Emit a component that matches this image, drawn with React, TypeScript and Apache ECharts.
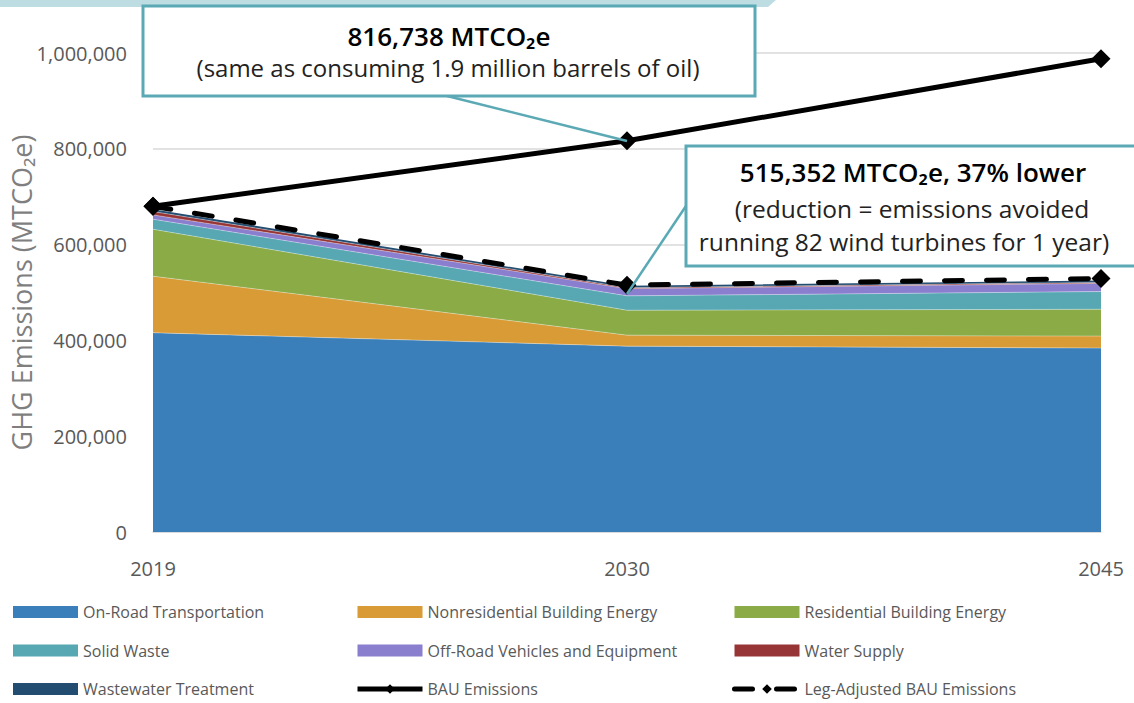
import React, { useEffect, useRef } from "react";
import * as echarts from "echarts";

const years = ["2019", "2030", "2045"];
const onRoad = [416000, 388000, 384000];
const nonresidential = [118000, 23000, 25000];
const residential = [98000, 52000, 56000];
const solidWaste = [21000, 30000, 37000];
const offRoad = [9000, 15000, 17000];
const waterSupply = [7000, 2000, 2000];
const wastewater = [5000, 4000, 4000];
const bau = [680000, 816738, 988000];
const legAdjusted = [680000, 515352, 529000];

const areaNames = [
  "On-Road Transportation",
  "Nonresidential Building Energy",
  "Residential Building Energy",
  "Solid Waste",
  "Off-Road Vehicles and Equipment",
  "Water Supply",
  "Wastewater Treatment",
];
const areaValues = [onRoad, nonresidential, residential, solidWaste, offRoad, waterSupply, wastewater];
const areaColors = ["#3a7fba", "#d99b36", "#8aab45", "#57a8b3", "#8a7ecf", "#973536", "#234d70"];

const FONT = "'Open Sans', 'Noto Sans', sans-serif";
const TEAL = "#5aa9b5";

export default function App() {
  const ref = useRef<HTMLDivElement>(null);
  useEffect(() => {
    if (!ref.current) return;
    const chart = echarts.init(ref.current, undefined, { renderer: "svg" });
    const areaSeries = areaNames.map((name, i) => ({
      name,
      type: "line",
      stack: "total",
      data: areaValues[i],
      symbol: "none",
      color: areaColors[i],
      lineStyle: { width: i === areaNames.length - 1 ? 0 : 1, color: "rgba(255,255,255,0.35)" },
      areaStyle: { color: areaColors[i], opacity: 1 },
      z: 2,
    }));
    const legendItem = (name: string) => {
      const i = areaNames.indexOf(name);
      if (i >= 0) return { name, icon: "rect", itemStyle: { color: areaColors[i], borderWidth: 0 } };
      return { name, lineStyle: { width: 5 } };
    };
    const legendCommon = {
      orient: "vertical",
      top: 597,
      height: 130,
      itemWidth: 65,
      itemHeight: 12,
      itemGap: 18.5,
      textStyle: { fontFamily: FONT, fontSize: 16, color: "#595959", lineHeight: 20 },
    };
    const textStyle = (text: string, size: number, bold: boolean) => ({
      text,
      align: "center",
      verticalAlign: "middle",
      fontFamily: FONT,
      fontSize: size,
      fontWeight: bold ? 600 : "normal",
      fill: bold ? "#000000" : "#222222",
    });
    chart.setOption({
      animation: false,
      grid: { left: 153, right: 33, top: 53, bottom: 171, outerBoundsMode: "none" },
      xAxis: {
        type: "category",
        data: years,
        boundaryGap: false,
        axisLine: { lineStyle: { color: "#d9d9d9", width: 1.5 } },
        axisTick: { show: false },
        axisLabel: { fontFamily: FONT, fontSize: 20, color: "#595959", margin: 26 },
        splitLine: { show: false },
      },
      yAxis: {
        type: "value",
        min: 0,
        max: 1000000,
        interval: 200000,
        name: "GHG Emissions (MTCO₂e)",
        nameLocation: "middle",
        nameGap: 118,
        nameMoveOverlap: false,
        nameTextStyle: { fontFamily: FONT, fontSize: 27, color: "#7f7f7f" },
        axisLine: { show: false },
        axisTick: { show: false },
        axisLabel: {
          fontFamily: FONT,
          fontSize: 20,
          color: "#595959",
          margin: 26,
          formatter: (v: number) => v.toLocaleString("en-US"),
        },
        splitLine: { lineStyle: { color: "#d9d9d9", width: 1.5 } },
      },
      legend: [
        { ...legendCommon, left: 8, data: [areaNames[0], areaNames[3], areaNames[6]].map(legendItem) },
        { ...legendCommon, left: 350, data: [areaNames[1], areaNames[4], "BAU Emissions"].map(legendItem) },
        { ...legendCommon, left: 727, data: [areaNames[2], areaNames[5], "Leg-Adjusted BAU Emissions"].map(legendItem) },
      ],
      series: [
        ...areaSeries,
        {
          name: "BAU Emissions",
          type: "line",
          data: bau,
          color: "#000000",
          symbol: "diamond",
          symbolSize: 19,
          lineStyle: { color: "#000000", width: 5 },
          itemStyle: { color: "#000000" },
          z: 5,
        },
        {
          name: "Leg-Adjusted BAU Emissions",
          type: "line",
          data: legAdjusted,
          color: "#000000",
          symbol: "diamond",
          symbolSize: 19,
          lineStyle: { color: "#000000", width: 5, type: [18, 24], cap: "round" },
          itemStyle: { color: "#000000" },
          z: 5,
        },
      ],
      graphic: [
        {
          type: "polygon",
          z: 100,
          shape: { points: [[0, 0], [776, 0], [768, 7], [0, 7]] },
          style: { fill: "#bddde3" },
        },
        {
          type: "line",
          z: 100,
          shape: { x1: 447, y1: 96, x2: 627, y2: 141 },
          style: { stroke: TEAL, lineWidth: 2.5 },
        },
        {
          type: "rect",
          z: 100,
          shape: { x: 143, y: 6, width: 612, height: 90 },
          style: { fill: "#ffffff", stroke: TEAL, lineWidth: 3 },
        },
        { type: "text", z: 101, x: 449, y: 36, style: textStyle("816,738 MTCO₂e", 26, true) },
        {
          type: "text",
          z: 101,
          x: 448,
          y: 67,
          style: textStyle("(same as consuming 1.9 million barrels of oil)", 24, false),
        },
        {
          type: "line",
          z: 100,
          shape: { x1: 690, y1: 200, x2: 627, y2: 294 },
          style: { stroke: TEAL, lineWidth: 2.5 },
        },
        {
          type: "rect",
          z: 100,
          shape: { x: 686, y: 146, width: 460, height: 120 },
          style: { fill: "#ffffff", stroke: TEAL, lineWidth: 3 },
        },
        { type: "text", z: 101, x: 913, y: 172, style: textStyle("515,352 MTCO₂e, 37% lower", 26, true) },
        { type: "text", z: 101, x: 912, y: 208, style: textStyle("(reduction = emissions avoided", 24.5, false) },
        {
          type: "text",
          z: 101,
          x: 904,
          y: 241,
          style: textStyle("running 82 wind turbines for 1 year)", 24.5, false),
        },
      ],
    });
    return () => chart.dispose();
  }, []);
  return (
    <div
      ref={ref}
      style={{ position: "fixed", left: 0, top: 0, width: 1134, height: 703, background: "#ffffff" }}
    />
  );
}
